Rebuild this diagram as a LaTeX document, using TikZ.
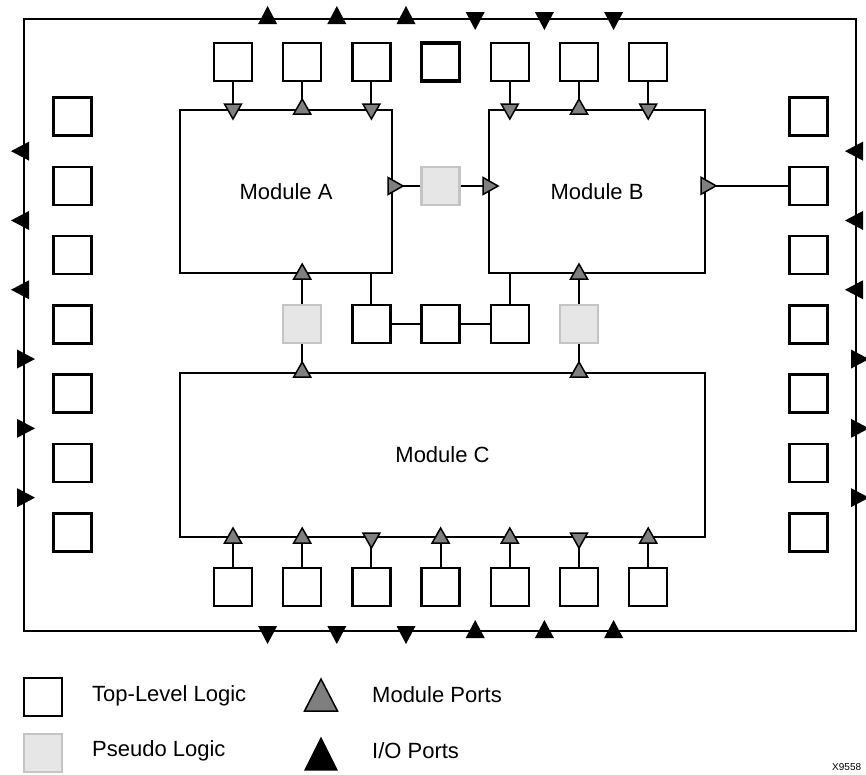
\documentclass[tikz,border=0pt]{standalone}
\usepackage{fontspec}
\setmainfont{Liberation Sans}
\usetikzlibrary{calc}
\definecolor{portgray}{HTML}{7F7F7F}
\definecolor{pseudofill}{HTML}{E6E6E6}
\definecolor{pseudoline}{HTML}{C4C4C4}
\tikzset{
  tll/.style={draw, line width=2.5pt, minimum size=38pt, inner sep=0pt, fill=white},
  pseudo/.style={draw=pseudoline, fill=pseudofill, line width=2.5pt, minimum size=38pt, inner sep=0pt},
  module/.style={draw, line width=2pt, inner sep=0pt, font=\fontsize{22}{26}\selectfont},
  wire/.style={line width=2pt},
  lbl/.style={font=\fontsize{22}{26}\selectfont, inner sep=0pt, anchor=west},
  ioup/.pic={\fill[black] (0,-12) -- (9.5,6) -- (-9.5,6) -- cycle;},
  iodown/.pic={\fill[black] (0,12) -- (9.5,-6) -- (-9.5,-6) -- cycle;},
  ioleft/.pic={\fill[black] (-12,0) -- (6,9.5) -- (6,-9.5) -- cycle;},
  ioright/.pic={\fill[black] (12,0) -- (-6,9.5) -- (-6,-9.5) -- cycle;},
  mpup/.pic={\filldraw[fill=portgray, draw=black, line width=1.5pt, line join=miter] (0,-10) -- (8.5,5) -- (-8.5,5) -- cycle;},
  mpdown/.pic={\filldraw[fill=portgray, draw=black, line width=1.5pt, line join=miter] (0,10) -- (8.5,-5) -- (-8.5,-5) -- cycle;},
  mpright/.pic={\filldraw[fill=portgray, draw=black, line width=1.5pt, line join=miter] (10,0) -- (-5,8.5) -- (-5,-8.5) -- cycle;},
}
\begin{document}
\begin{tikzpicture}[x=1pt,y=-1pt]
\useasboundingbox (0,0) rectangle (866,774);
% outer chip boundary
\node[draw, line width=2pt, minimum width=832pt, minimum height=612pt, inner sep=0pt] (chip) at (440,325) {};
% modules
\node[module, minimum width=212pt, minimum height=163pt] (A) at (286,191.5) {Module A};
\node[module, minimum width=216pt, minimum height=163pt] (B) at (597,191.5) {Module B};
\node[module, minimum width=525pt, minimum height=164pt] (C) at (442.5,455) {Module C};
% top and bottom squares
\foreach \i in {1,...,7} {
  \pgfmathsetmacro{\xx}{233+69.2*(\i-1)}
  \node[tll] (b\i) at (\xx,587) {};
}
\foreach \i in {1,2,3,5,6,7} {
  \pgfmathsetmacro{\xx}{233+69.2*(\i-1)}
  \node[tll] (t\i) at (\xx,62) {};
}
\node[tll, line width=3.5pt] (t4) at (440.6,62) {};
% left and right squares
\foreach \i in {1,...,7} {
  \pgfmathsetmacro{\yy}{116.5+69.3*(\i-1)}
  \node[tll] (l\i) at (72.5,\yy) {};
  \node[tll] (r\i) at (808.5,\yy) {};
}
% middle logic
\node[tll] (m1) at (371.4,324) {};
\node[tll] (m2) at (440.6,324) {};
\node[tll] (m3) at (509.8,324) {};
\node[pseudo] (p1) at (440.6,186) {};
\node[pseudo] (p2) at (302.2,324) {};
\node[pseudo] (p3) at (579,324) {};
% wires
\foreach \i in {1,2,3} \draw[wire] (t\i.south) -- (t\i |- A.north);
\foreach \i in {5,6,7} \draw[wire] (t\i.south) -- (t\i |- B.north);
\foreach \i in {1,...,7} \draw[wire] (b\i.north) -- (b\i |- C.south);
\draw[wire] (A.east |- p1) -- (p1.west);
\draw[wire] (p1.east) -- (B.west |- p1);
\draw[wire] (B.east |- r2) -- (r2.west);
\draw[wire] (m1 |- A.south) -- (m1.north);
\draw[wire] (m1.east) -- (m2.west);
\draw[wire] (m2.east) -- (m3.west);
\draw[wire] (m3 |- B.south) -- (m3.north);
\draw[wire] (p2 |- A.south) -- (p2.north);
\draw[wire] (p2.south) -- (p2 |- C.north);
\draw[wire] (p3 |- B.south) -- (p3.north);
\draw[wire] (p3.south) -- (p3 |- C.north);
% module ports
\pic at (t1 |- A.north) {mpdown};
\pic at (t2 |- A.north) {mpup};
\pic at (t3 |- A.north) {mpdown};
\pic at (t5 |- B.north) {mpdown};
\pic at (t6 |- B.north) {mpup};
\pic at (t7 |- B.north) {mpdown};
\pic at (A.east |- p1) {mpright};
\pic at (B.west |- p1) {mpright};
\pic at (B.east |- r2) {mpright};
\pic at (p2 |- A.south) {mpup};
\pic at (p2 |- C.north) {mpup};
\pic at (p3 |- B.south) {mpup};
\pic at (p3 |- C.north) {mpup};
\pic at (b1 |- C.south) {mpup};
\pic at (b2 |- C.south) {mpup};
\pic at (b3 |- C.south) {mpdown};
\pic at (b4 |- C.south) {mpup};
\pic at (b5 |- C.south) {mpup};
\pic at (b6 |- C.south) {mpdown};
\pic at (b7 |- C.south) {mpup};
% I/O ports
\foreach \a/\b [count=\k] in {1/2,2/3,3/4,4/5,5/6,6/7} {
  \coordinate (hx) at ($(b\a)!0.5!(b\b)$);
  \coordinate (vy) at ($(l\a)!0.5!(l\b)$);
  \ifnum\k<4
    \pic at (hx |- chip.north) {ioup};
    \pic at (hx |- chip.south) {iodown};
    \pic at (vy -| chip.west) {ioleft};
    \pic at (vy -| chip.east) {ioleft};
  \else
    \pic at (hx |- chip.north) {iodown};
    \pic at (hx |- chip.south) {ioup};
    \pic at (vy -| chip.west) {ioright};
    \pic at (vy -| chip.east) {ioright};
  \fi
}
% legend
\node[tll] (legtll) at (43,697) {};
\node[lbl] (legtlltxt) at (92,696) {Top-Level Logic};
\node[pseudo] (legps) at (43,753) {};
\node[lbl] (legpstxt) at (92,751) {Pseudo Logic};
\coordinate (legmp) at (321,695);
\filldraw[fill=portgray, draw=black, line width=1.5pt] ($(legmp)+(0,-16)$) -- ($(legmp)+(16.5,16)$) -- ($(legmp)+(-16.5,16)$) -- cycle;
\node[lbl] (legmptxt) at (372,695) {Module Ports};
\coordinate (legio) at (321,753.5);
\fill[black] ($(legio)+(0,-17)$) -- ($(legio)+(17,17)$) -- ($(legio)+(-17,17)$) -- cycle;
\node[lbl] (legiotxt) at (372,751) {I/O Ports};
\node[font=\fontsize{10}{12}\selectfont, inner sep=0pt, anchor=west] (fig) at (832,767) {X9558};
\end{tikzpicture}
\end{document}
